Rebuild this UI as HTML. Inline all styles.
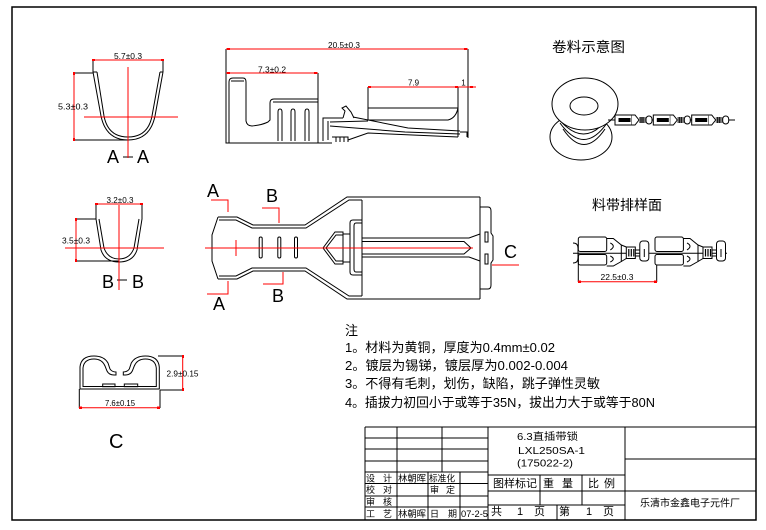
<!DOCTYPE html>
<html><head><meta charset="utf-8"><style>
html,body{margin:0;padding:0;background:#fff;}
svg{display:block;}
text{font-family:"Liberation Sans","Noto Sans CJK SC",sans-serif;fill:#000;}
.d{font-size:8px;}
.L{font-size:18px;}
.n{font-size:13px;}
.t9{font-size:9px;}
.t10{font-size:10px;}
.t11{font-size:11px;}
</style></head><body>
<svg width="766" height="530" viewBox="0 0 766 530" xmlns="http://www.w3.org/2000/svg">
<rect width="766" height="530" fill="#fff"/>
<g fill="none" stroke="#000" stroke-width="1">
<!-- frame -->
<rect x="12" y="7" width="744" height="513" stroke-width="1.5"/>

<!-- A-A section -->
<path d="M93,72 L101,116 Q106,140 128,140 Q150,140 155,116 L163,72"/>
<path d="M97,72 L104,116 Q108,137 128,137 Q148,137 152,116 L160,72"/>
<path d="M93,72 L97,72 M160,72 L163,72 M74,73 L93,73 M74,140 L128,140 M93,60 L93,72 M163,60 L163,72"/>
<path d="M123,157 L133,157"/>

<!-- B-B section -->
<path d="M96,204 L96,219 L101,250 Q105,262 119,262 Q133,262 137,250 L142,219 L142,204"/>
<path d="M99,219 L104,248 Q108,259 119,259 Q130,259 134,248 L139,219"/>
<path d="M76,219 L96,219 M76,261 L119,261 M117,280 L127,280"/>

<!-- side view -->
<path d="M226,49 L226,143 L332,143"/>
<path d="M229,143 L229,82 Q229,78 233,78 L243,78 Q246,78 246,82 L246,121 Q247,126 252,126 Q262,125 268,122 L270,120 L270,103 Q270,99 274,99 L318,99 L318,143"/>
<path d="M231,81 L244,81 M273,102 L318,102"/>
<path d="M278,141 L278,112 Q278,109 280,109 Q282,109 282,112 L282,141"/>
<path d="M291,141 L291,112 Q291,109 293,109 Q295,109 295,112 L295,141"/>
<path d="M305,141 L305,112 Q305,109 307,109 Q309,109 309,112 L309,141"/>
<path d="M318,73 L318,99"/>
<path d="M323,141 L323,118 L343,118 M328,121 L328,140"/>
<path d="M343,118 L345,111 L342,108 L346,106 L351,112 L354,118"/>
<path d="M368,87 L458,87 L458,137 M368,87 L368,120 L448,120 Q456,118 458,108 M368,108 L458,108"/>
<path d="M468,49 L468,138 M460,132 L467,132 L467,137"/>
<path d="M353,117 L408,128 L460,131 M330,122 L368,121 M330,126 L405,132 L460,134 M348,140 L368,133 L458,137 M332,137 L348,137 L348,142 M336,137 L336,142 M340,137 L340,142 M344,137 L344,142"/>

<!-- top view -->
<path d="M218,217 L237,217 L253,225 L305,225 L347,197 L480,197"/>
<path d="M219,220 L236,220 L252,228 L306,228 L349,200 L362,200"/>
<path d="M218,279 L237,279 L253,271 L305,271 L347,299 L480,299"/>
<path d="M219,276 L236,276 L252,268 L306,268 L349,296 L362,296"/>
<path d="M218,217 L212,235 L212,261 L218,279"/>
<path d="M362,200 L362,296 M480,197 L480,299"/>
<rect x="259.2" y="237" width="3" height="21" rx="1.5"/>
<rect x="277.8" y="237" width="3" height="21" rx="1.5"/>
<rect x="294.5" y="237" width="3" height="21" rx="1.5"/>
<path d="M362,220 L353,220 Q350,220 350,223 L350,272 Q350,275 353,275 L362,275"/>
<path d="M362,223 L356,223 Q354,223 354,226 L354,269 Q354,272 356,272 L362,272"/>
<path d="M343,232 L335,232 L323,248 L335,264 L343,264 Z"/>
<path d="M343,235 L336,235 L326,248 L336,261 L343,261"/>
<path d="M343,234 L350,234 M343,262 L350,262"/>
<path d="M362,238 L469,238 L480,234 M362,257 L469,257 L480,261"/>
<path d="M362,241.5 L464,241.5 L471,248 L464,254 L362,254"/>
<path d="M480,207 L488,207 Q491,207 491,211 L491,233 L493,236 L493,260 L491,263 L491,285 Q491,289 488,289 L480,289"/>
<rect x="485" y="232" width="3" height="10"/>
<rect x="485" y="254" width="3" height="10"/>

<!-- reel -->
<ellipse cx="581" cy="137" rx="31" ry="23" fill="#fff"/>
<path d="M558,118 Q584,150 608,118 M560,123 Q584,156 607,123 M563,129 Q584,160 605,129"/>
<ellipse cx="585" cy="104" rx="33" ry="26" fill="#fff"/>
<ellipse cx="584" cy="106" rx="14" ry="9"/>
<path d="M608,120 L735,120"/>
<g id="ru">
<rect x="615" y="115" width="17" height="10" fill="#fff"/>
<rect x="619" y="118.5" width="11" height="3" fill="#000"/>
<path d="M632,115 L635,115 L639,120 L635,125 L632,125" fill="#fff"/>
<path d="M639,118 L646,118 M639,122 L646,122 M641,117 L641,123 M643,117 L643,123"/>
<rect x="646" y="116" width="6" height="8" rx="3" fill="#fff"/>
</g>
<use href="#ru" x="38.3"/>
<use href="#ru" x="76.7"/>

<!-- strip view -->
<path d="M573,253.3 L727,253.3"/>
<path d="M573,243 Q578,243 578,248 L578,258 Q578,263 573,263"/>
<g id="su">
<rect x="578.3" y="237" width="28.4" height="14.5" rx="2" fill="#fff"/>
<rect x="578.3" y="254.5" width="28.4" height="10.5" rx="2" fill="#fff"/>
<path d="M606.7,238.5 L613.3,238.5 L621.3,245 L621.3,261.5 L613.3,266 L606.7,266"/>
<path d="M610.3,243 Q616.3,246 610.3,250 M610.3,256 Q616.3,259 610.3,262"/>
<path d="M621.3,245 L626.3,247 M621.3,261.5 L626.3,258.5"/>
<rect x="626.3" y="247" width="9" height="11.5" fill="#fff"/>
<path d="M628.8,249 L628.8,256.5 M631.3,249 L631.3,256.5 M633.8,249 L633.8,256.5" stroke-width="1.2"/>
<path d="M635.3,250 L639.8,250 M635.3,256 L639.8,256"/>
<rect x="639.8" y="241" width="9" height="20" rx="3" fill="#fff"/>
<path d="M644.3,249 L644.3,257"/>
</g>
<use href="#su" x="76.7"/>
<path d="M578.3,253 L578.3,282 M656.7,265 L656.7,282"/>

<!-- C section -->
<path d="M80,389 L80,367 Q81,356 94,356 Q104,356 108,363 L110,369 Q112,372 116,372 L116,375 L114,375 Q109,375 107,371 L105,366 Q102,359 94,359 Q84,359 83,368 L83,386.5 L156.3,386.5 L156.3,368 Q155.3,359 145.3,359 Q137.3,359 134.3,366 L132.3,371 Q130.3,375 125.3,375 L123.3,375 L123.3,372 Q127.3,372 129.3,369 L131.3,363 Q135.3,356 145.3,356 Q158.3,356 159.3,367 L159.3,389 Z"/>
<rect x="102.7" y="384" width="12.3" height="2.7"/>
<rect x="124.3" y="384" width="13.4" height="2.7"/>
<path d="M158,356 L183,356 M160,390 L183,390 M79.3,389 L79.3,408 M160,390 L160,408"/>

<!-- title block -->
<path d="M365,427 L756,427 M365,427 L365,520"/>
<path d="M365,438 L488,438 M365,449 L488,449 M365,461 L488,461 M365,472 L488,472 M365,483.5 L488,483.5 M365,496 L488,496 M365,507 L488,507"/>
<path d="M397,427 L397,520 M442,427 L442,472 M428,472 L428,520 M460,472 L460,520 M488,427 L488,520"/>
<path d="M488,475 L625,475 M488,491 L625,491 M488,505 L625,505 M540,475 L540,505 M582,475 L582,505 M557,505 L557,520 M625,427 L625,520"/>
<path d="M625,459 L756,459 M625,491 L756,491"/>
</g>

<!-- red lines -->
<g fill="none" stroke="#f00" stroke-width="1">
<path d="M93,60 L163,60 M128,67 L128,158 M84,117 L178,117 M74,73 L74,140"/>
<path d="M96,204 L142,204 M119,205 L119,290 M65,248 L164,248 M76,219 L76,261"/>
<path d="M226,49 L468,49 M226,73 L318,73 M368,87 L476,87"/>
<path d="M205,248 L473,248 M236,240 L236,256"/>
<path d="M211,200 L228,200 L228,212 M207,294 L228,294 L228,281"/>
<path d="M262,208 L279,208 L279,223 M263,284 L283,284 L283,272"/>
<path d="M492,265 L519,265"/>
<path d="M578.3,281.7 L656.7,281.7"/>
<path d="M182.7,356 L182.7,390 M79.3,407.7 L160,407.7"/>
</g>
<g fill="#f00">
<rect x="92" y="59" width="3" height="2"/><rect x="161" y="59" width="3" height="2"/>
<rect x="73" y="72" width="2" height="3"/><rect x="73" y="138" width="2" height="3"/>
<rect x="95" y="203" width="3" height="2"/><rect x="140" y="203" width="3" height="2"/>
<rect x="75" y="218" width="2" height="3"/><rect x="75" y="259" width="2" height="3"/>
<rect x="227" y="48" width="3" height="2"/><rect x="464" y="48" width="3" height="2"/>
<rect x="227" y="72" width="3" height="2"/><rect x="314" y="72" width="3" height="2"/>
<rect x="368" y="86" width="3" height="2"/><rect x="455" y="86" width="3" height="2"/><rect x="470" y="86" width="3" height="2"/>
<rect x="578" y="280.5" width="3" height="2.5"/><rect x="654" y="280.5" width="3" height="2.5"/>
<rect x="182" y="355" width="2" height="3"/><rect x="182" y="388" width="2" height="3"/>
<rect x="79" y="406.5" width="3" height="2.5"/><rect x="157" y="406.5" width="3" height="2.5"/>
</g>

<!-- dimension texts -->
<text class="d" x="128" y="59" text-anchor="middle" textLength="28" lengthAdjust="spacingAndGlyphs">5.7±0.3</text>
<text class="d" x="73" y="109.5" text-anchor="middle" textLength="30" lengthAdjust="spacingAndGlyphs">5.3±0.3</text>
<text class="d" x="120" y="203" text-anchor="middle" textLength="27" lengthAdjust="spacingAndGlyphs">3.2±0.3</text>
<text class="d" x="76" y="243.5" text-anchor="middle" textLength="28" lengthAdjust="spacingAndGlyphs">3.5±0.3</text>
<text class="d" x="344" y="48" text-anchor="middle" textLength="32" lengthAdjust="spacingAndGlyphs">20.5±0.3</text>
<text class="d" x="272" y="72.5" text-anchor="middle" textLength="28" lengthAdjust="spacingAndGlyphs">7.3±0.2</text>
<text class="d" x="413.5" y="85.5" text-anchor="middle">7.9</text>
<text class="d" x="463.5" y="85.5" text-anchor="middle">1</text>
<text class="d" x="617" y="280" text-anchor="middle" textLength="33" lengthAdjust="spacingAndGlyphs">22.5±0.3</text>
<text class="d" x="182.5" y="376.5" text-anchor="middle" textLength="32" lengthAdjust="spacingAndGlyphs">2.9±0.15</text>
<text class="d" x="120" y="406" text-anchor="middle" textLength="30" lengthAdjust="spacingAndGlyphs">7.6±0.15</text>

<!-- section labels -->
<text class="L" x="107" y="163">A</text>
<text class="L" x="137" y="163">A</text>
<text class="L" x="102" y="288">B</text>
<text class="L" x="132" y="288">B</text>
<text class="L" x="207" y="197">A</text>
<text class="L" x="213" y="310">A</text>
<text class="L" x="266" y="202">B</text>
<text class="L" x="272" y="302">B</text>
<text class="L" x="504" y="258">C</text>
<text x="109" y="448" style="font-size:20px">C</text>

<!-- view titles -->
<text x="552" y="52" style="font-size:14px" textLength="73" lengthAdjust="spacingAndGlyphs">卷料示意图</text>
<text x="592" y="210" style="font-size:14px" textLength="70" lengthAdjust="spacingAndGlyphs">料带排样面</text>

<!-- notes -->
<text class="n" x="345" y="335">注</text>
<text class="n" x="345" y="352" textLength="210" lengthAdjust="spacingAndGlyphs">1。材料为黄铜，厚度为0.4mm±0.02</text>
<text class="n" x="345" y="370" textLength="223" lengthAdjust="spacingAndGlyphs">2。镀层为锡锑，镀层厚为0.002-0.004</text>
<text class="n" x="345" y="388" textLength="255" lengthAdjust="spacingAndGlyphs">3。不得有毛刺，划伤，缺陷，跳子弹性灵敏</text>
<text class="n" x="345" y="407" textLength="310" lengthAdjust="spacingAndGlyphs">4。插拔力初回小于或等于35N，拔出力大于或等于80N</text>

<!-- title block texts -->
<text class="t10" x="517" y="440" textLength="61" lengthAdjust="spacingAndGlyphs">6.3直插带锁</text>
<text class="t10" x="518" y="454" textLength="67" lengthAdjust="spacingAndGlyphs">LXL250SA-1</text>
<text class="t10" x="517" y="466.5" textLength="56" lengthAdjust="spacingAndGlyphs">(175022-2)</text>

<text class="t9" x="366" y="481.5" textLength="26" lengthAdjust="spacing">设 计</text>
<text class="t9" x="398" y="481.5" textLength="28" lengthAdjust="spacingAndGlyphs">林朝晖</text>
<text class="t9" x="429" y="481.5" textLength="26" lengthAdjust="spacingAndGlyphs">标准化</text>
<text class="t9" x="366" y="493" textLength="26" lengthAdjust="spacing">校 对</text>
<text class="t9" x="430" y="493" textLength="25" lengthAdjust="spacing">审 定</text>
<text class="t9" x="366" y="505" textLength="26" lengthAdjust="spacing">审 核</text>
<text class="t9" x="366" y="517" textLength="26" lengthAdjust="spacing">工 艺</text>
<text class="t9" x="398" y="517" textLength="28" lengthAdjust="spacingAndGlyphs">林朝晖</text>
<text class="t9" x="430" y="517" textLength="27" lengthAdjust="spacing">日 期</text>
<text class="t9" x="461" y="517" textLength="27" lengthAdjust="spacingAndGlyphs">07-2-5</text>

<text class="t11" x="493" y="487" textLength="44" lengthAdjust="spacingAndGlyphs">图样标记</text>
<text class="t11" x="543" y="487" textLength="30" lengthAdjust="spacing">重 量</text>
<text class="t11" x="588" y="487" textLength="27" lengthAdjust="spacing">比 例</text>
<text class="t11" x="491" y="515">共</text>
<text class="t11" x="517" y="515">1</text>
<text class="t11" x="534" y="515">页</text>
<text class="t11" x="559" y="515">第</text>
<text class="t11" x="586" y="515">1</text>
<text class="t11" x="603" y="515">页</text>
<text class="t10" x="640" y="506.5" textLength="100" lengthAdjust="spacingAndGlyphs">乐清市金鑫电子元件厂</text>
</svg>
</body></html>
